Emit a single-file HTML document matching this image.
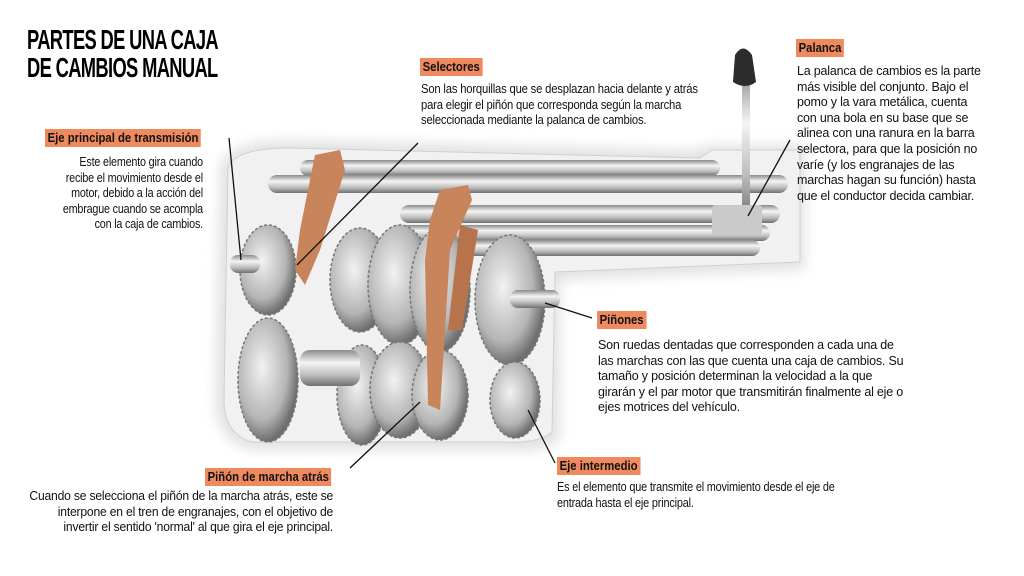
<!DOCTYPE html>
<html><head><meta charset="utf-8"><style>
body{margin:0;width:1024px;height:576px;background:#fff;position:relative;overflow:hidden;font-family:"Liberation Sans Narrow","Liberation Sans",sans-serif;}
.t{position:absolute;color:#111;font-size:12.5px;line-height:15.6px;letter-spacing:-0.2px;white-space:nowrap;}
.lab{position:absolute;background:#ef8a5e;color:#111;font-weight:bold;font-size:13px;line-height:18px;padding:0 3px;transform:scaleX(.87);transform-origin:left top;white-space:nowrap;}
h1{position:absolute;left:27px;top:26px;margin:0;font-size:28px;line-height:28px;font-weight:bold;letter-spacing:-1px;color:#000;transform:scaleX(.655);transform-origin:left top;white-space:nowrap;}
svg{position:absolute;left:0;top:0}
</style></head><body>
<svg width="1024" height="576">
<defs>
<linearGradient id="rod" x1="0" y1="0" x2="0" y2="1"><stop offset="0" stop-color="#8a8a8a"/><stop offset=".35" stop-color="#f4f4f4"/><stop offset=".7" stop-color="#bdbdbd"/><stop offset="1" stop-color="#707070"/></linearGradient>
<radialGradient id="gear" cx=".4" cy=".4" r=".6"><stop offset="0" stop-color="#f2f2f2"/><stop offset=".7" stop-color="#b5b5b5"/><stop offset="1" stop-color="#6f6f6f"/></radialGradient>
<filter id="blur"><feGaussianBlur stdDeviation="6"/></filter>
</defs>
<g filter="url(#blur)" fill="#e2e2e2">
<path d="M220 165 Q230 140 290 140 L690 150 L715 145 L805 145 L805 270 L560 280 L560 440 Q540 455 500 450 L250 450 Q215 440 215 400 Z"/>
</g>
<path d="M228 168 Q235 148 290 148 L700 158 L712 150 L800 150 L800 262 L555 272 L552 432 Q540 444 500 442 L252 442 Q224 434 224 400 Z" fill="#f1f1f1" stroke="#d0d0d0"/>
<rect x="300" y="160" width="420" height="16" rx="8" fill="url(#rod)"/>
<rect x="268" y="175" width="520" height="18" rx="9" fill="url(#rod)"/>
<rect x="400" y="205" width="380" height="18" rx="9" fill="url(#rod)"/>
<rect x="400" y="225" width="370" height="16" rx="8" fill="url(#rod)"/>
<rect x="340" y="240" width="420" height="16" rx="8" fill="url(#rod)"/>
<rect x="742" y="70" width="8" height="150" fill="url(#rod)"/>
<path d="M735 55 Q743 42 752 55 L756 82 Q745 90 733 82 Z" fill="#2c2c2c"/>
<rect x="712" y="205" width="50" height="30" fill="#c9c9c9" rx="3"/>
<g fill="url(#gear)" stroke="#777" stroke-width="1.5" stroke-dasharray="3 2">
<ellipse cx="268" cy="270" rx="28" ry="45"/>
<ellipse cx="268" cy="380" rx="30" ry="62"/>
<ellipse cx="360" cy="280" rx="30" ry="52"/>
<ellipse cx="400" cy="285" rx="32" ry="60"/>
<ellipse cx="440" cy="290" rx="30" ry="62"/>
<ellipse cx="510" cy="300" rx="35" ry="65"/>
<ellipse cx="362" cy="395" rx="25" ry="50"/>
<ellipse cx="400" cy="390" rx="30" ry="48"/>
<ellipse cx="440" cy="395" rx="28" ry="45"/>
<ellipse cx="515" cy="400" rx="25" ry="38"/>
</g>
<rect x="230" y="255" width="30" height="18" rx="8" fill="url(#rod)"/>
<rect x="300" y="350" width="60" height="36" rx="10" fill="url(#rod)"/>
<rect x="510" y="290" width="50" height="18" rx="8" fill="url(#rod)"/>
<path d="M315 155 L340 150 L345 170 L320 250 L305 285 L295 270 L300 230 Z" fill="#c8845a"/>
<path d="M440 190 L468 185 L472 200 L450 250 L440 410 L428 405 L425 260 L430 220 Z" fill="#c8845a"/>
<path d="M460 225 L478 230 L462 330 L448 330 Z" fill="#b7744c"/>
<g stroke="#111" stroke-width="1.3">
<line x1="229" y1="138" x2="241" y2="260"/>
<line x1="418" y1="143" x2="297" y2="265"/>
<line x1="790" y1="140" x2="748" y2="216"/>
<line x1="592" y1="318" x2="545" y2="303"/>
<line x1="555" y1="463" x2="528" y2="410"/>
<line x1="350" y1="468" x2="420" y2="402"/>
</g>
</svg>
<h1>PARTES DE UNA CAJA<br>DE CAMBIOS MANUAL</h1>
<div class="lab" style="left:45px;top:129px">Eje principal de transmisión</div>
<div class="t" style="right:821px;top:155px;text-align:right;transform:scaleX(.86);transform-origin:right top">Este elemento gira cuando<br>recibe el movimiento desde el<br>motor, debido a la acción del<br>embrague cuando se acompla<br>con la caja de cambios.</div>
<div class="lab" style="left:420px;top:58px">Selectores</div>
<div class="t" style="left:421px;top:82px;transform:scaleX(.9);transform-origin:left top">Son las horquillas que se desplazan hacia delante y atrás<br>para elegir el piñón que corresponda según la marcha<br>seleccionada mediante la palanca de cambios.</div>
<div class="lab" style="left:796px;top:39px">Palanca</div>
<div class="t" style="left:797px;top:64px">La palanca de cambios es la parte<br>más visible del conjunto. Bajo el<br>pomo y la vara metálica, cuenta<br>con una bola en su base que se<br>alinea con una ranura en la barra<br>selectora, para que la posición no<br>varíe (y los engranajes de las<br>marchas hagan su función) hasta<br>que el conductor decida cambiar.</div>
<div class="lab" style="left:597px;top:311px">Piñones</div>
<div class="t" style="left:598px;top:338px">Son ruedas dentadas que corresponden a cada una de<br>las marchas con las que cuenta una caja de cambios. Su<br>tamaño y posición determinan la velocidad a la que<br>girarán y el par motor que transmitirán finalmente al eje o<br>ejes motrices del vehículo.</div>
<div class="lab" style="left:557px;top:457px">Eje intermedio</div>
<div class="t" style="left:557px;top:480px;transform:scaleX(.87);transform-origin:left top">Es el elemento que transmite el movimiento desde el eje de<br>entrada hasta el eje principal.</div>
<div class="lab" style="left:205px;top:468px">Piñón de marcha atrás</div>
<div class="t" style="right:691px;top:489px;text-align:right;transform:scaleX(.97);transform-origin:right top">Cuando se selecciona el piñón de la marcha atrás, este se<br>interpone en el tren de engranajes, con el objetivo de<br>invertir el sentido 'normal' al que gira el eje principal.</div>
</body></html>
